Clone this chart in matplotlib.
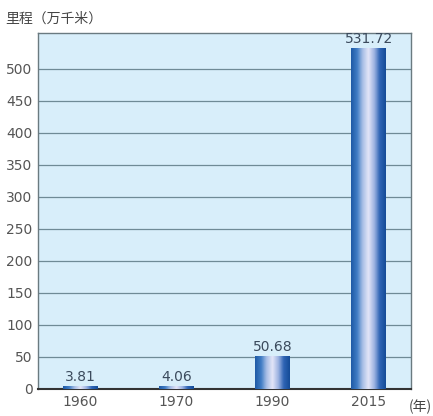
import numpy as np
import matplotlib
matplotlib.use("Agg")
import matplotlib.pyplot as plt
from matplotlib.colors import LinearSegmentedColormap

plt.rcParams['font.family'] = ['Noto Sans CJK SC', 'DejaVu Sans']

years = ['1960', '1970', '1990', '2015']
values = [3.81, 4.06, 50.68, 531.72]
labels = ['3.81', '4.06', '50.68', '531.72']
yticks = [0, 50, 100, 150, 200, 250, 300, 350, 400, 450, 500]

fig = plt.figure(figsize=(4.33, 4.16), dpi=100)
ax = fig.add_axes([0.088, 0.065, 0.861, 0.856])
ax.set_facecolor('#d8eefa')

x = np.arange(len(years))
width = 0.36
cmap = LinearSegmentedColormap.from_list(
    'bar', ['#1f5aa6', '#3f7cc4', '#a9bfe6', '#e4e6f8', '#9fb4e2', '#2e64b4', '#154c98'])
grad = np.linspace(0, 1, 64).reshape(1, -1)

ax.grid(axis='y', color='#6f8a96', linewidth=0.9)
ax.set_axisbelow(True)

for xi, v, lab in zip(x, values, labels):
    ax.imshow(grad, cmap=cmap, aspect='auto', zorder=3,
              extent=[xi - width / 2, xi + width / 2, 0, v], interpolation='bilinear')
    ax.text(xi, v + 4, lab, ha='center', va='bottom', fontsize=10,
            color='#3b4a5c', family=['DejaVu Sans'], zorder=4)
ax.set_xlim(-0.44, 3.44)
ax.set_ylim(0, 556)
ax.set_yticks(yticks)

ax.set_xticks(x)
ax.set_xticklabels(years)
ax.tick_params(axis='both', length=0, labelsize=10, colors='#555555', pad=4)
for lab in ax.get_xticklabels() + ax.get_yticklabels():
    lab.set_family(['DejaVu Sans'])
for s in ax.spines.values():
    s.set_color('#6a7a80')
    s.set_linewidth(1.0)
ax.spines['bottom'].set_color('#333333')
ax.spines['bottom'].set_linewidth(1.5)

fig.text(0.012, 0.955, '里程（万千米）', fontsize=10, color='#444444', ha='left', va='center')
fig.text(0.998, 0.022, '(年)', fontsize=10, color='#444444', ha='right', va='center')

fig.savefig('out.png', dpi=100)
